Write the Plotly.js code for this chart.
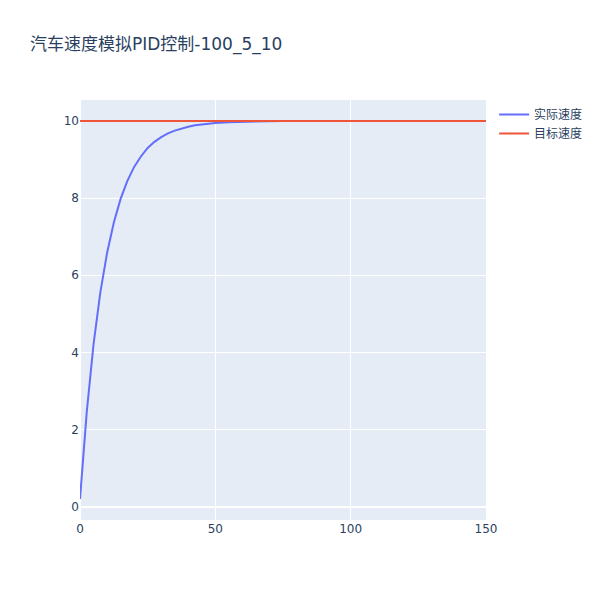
<!DOCTYPE html>
<html>
<head>
<meta charset="utf-8">
<script src="https://cdn.plot.ly/plotly-3.0.1.min.js"></script>
<style>html,body{margin:0;padding:0;background:#fff}</style>
</head>
<body>
<div id="chart" style="width:600px;height:600px"></div>
<script>
const timeSteps = [0, 2.5, 5, 7.5, 10, 12.5, 15, 17.5, 20, 22.5, 25, 27.5, 30, 32.5, 35, 37.5, 40, 42.5, 45, 47.5, 50, 55, 60, 65, 70, 75, 80, 90, 100];
const actualSpeed = [0.20, 2.46, 4.21, 5.55, 6.58, 7.37, 7.98, 8.45, 8.81, 9.08, 9.30, 9.46, 9.58, 9.68, 9.75, 9.81, 9.85, 9.89, 9.91, 9.93, 9.95, 9.97, 9.98, 9.99, 9.99, 10.0, 10.0, 10.0, 10.0];
const targetTimes = [0, 150];
const targetSpeed = [10, 10];
const seriesNames = ['实际速度', '目标速度'];
const chartTitle = '汽车速度模拟PID控制-100_5_10';

const font = '"DejaVu Sans", "Noto Sans CJK SC", sans-serif';
Plotly.newPlot('chart', [
  {x: timeSteps, y: actualSpeed, mode: 'lines', name: seriesNames[0], line: {color: '#636efa', width: 2}},
  {x: targetTimes, y: targetSpeed, mode: 'lines', name: seriesNames[1], line: {color: '#EF553B', width: 2}}
], {
  width: 600, height: 600,
  title: {text: chartTitle, x: 0.05, font: {size: 17, color: '#2a3f5f', family: font}},
  font: {family: font, color: '#2a3f5f', size: 12},
  paper_bgcolor: '#fff',
  plot_bgcolor: '#E5ECF6',
  xaxis: {gridcolor: 'white', zerolinecolor: 'white', zerolinewidth: 2, linecolor: 'white', ticks: '', showline: false},
  yaxis: {gridcolor: 'white', zerolinecolor: 'white', zerolinewidth: 2, linecolor: 'white', ticks: '', showline: false},
  legend: {font: {size: 12}},
  margin: {l: 80, r: 80, t: 100, b: 80}
}, {displayModeBar: false});
</script>
</body>
</html>
